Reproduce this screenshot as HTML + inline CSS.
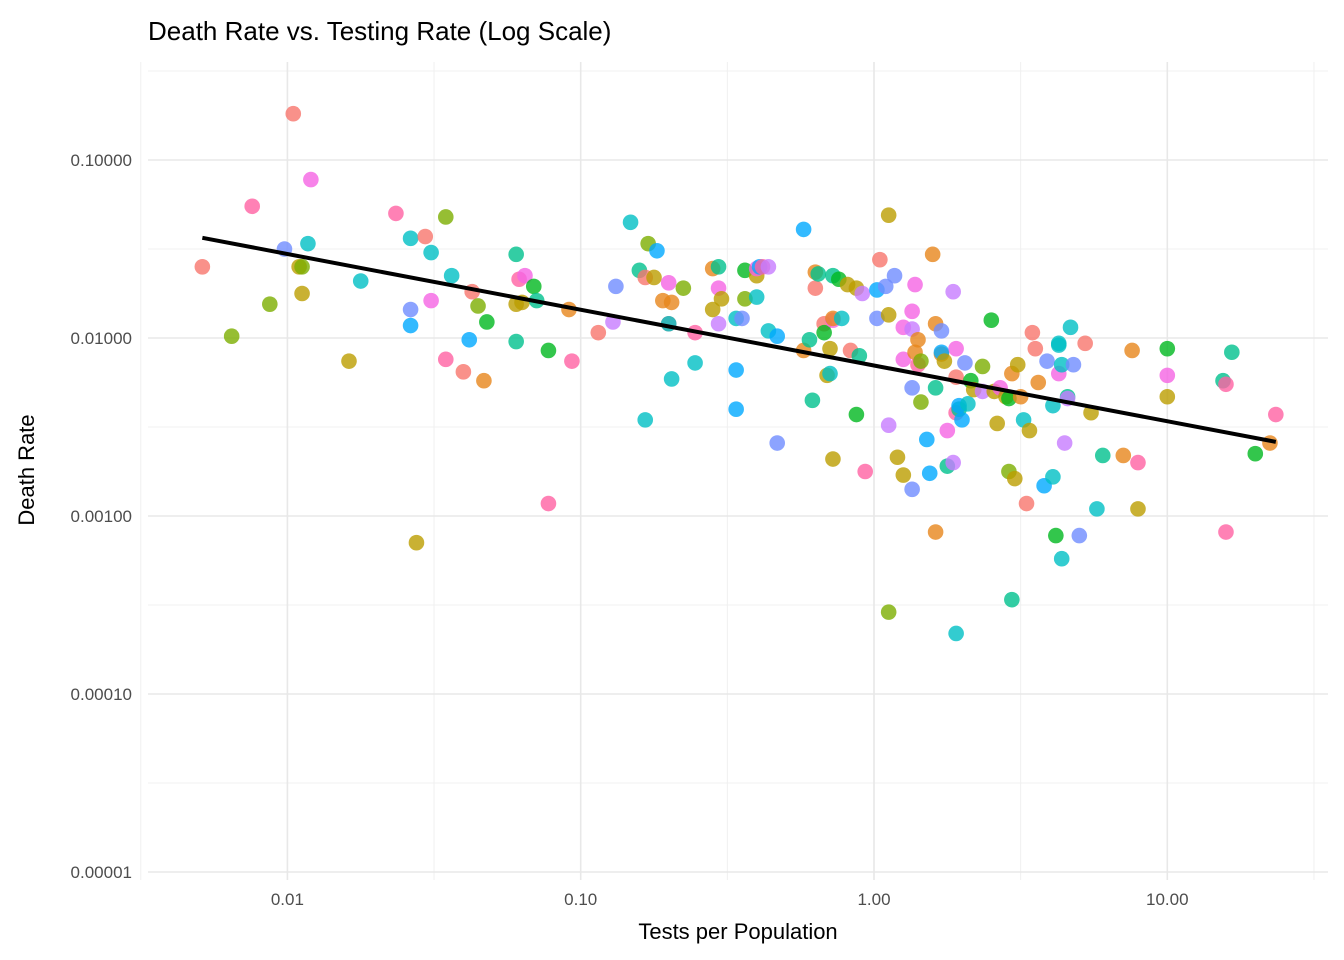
<!DOCTYPE html>
<html><head><meta charset="utf-8"><style>
body{margin:0;background:#fff;}
svg{display:block;font-family:"Liberation Sans",Arial,sans-serif;}
</style></head><body>
<svg id="chart" width="1344" height="960" xmlns="http://www.w3.org/2000/svg">
<text x="148" y="40" font-size="26" fill="#000">Death Rate vs. Testing Rate (Log Scale)</text>
<g id="grid"></g>
<g id="points"></g>
<g id="fit"></g>
<g id="axes"></g>
<text x="738" y="939" font-size="22" text-anchor="middle" fill="#000">Tests per Population</text>
<text transform="translate(34,470) rotate(-90)" font-size="22" text-anchor="middle" fill="#000">Death Rate</text>
</svg>
<script>
// data: log10 of tests per population, log10 of death rate
const logTests = [-2.29,-2.19,-2.12,-2.06,-2.01,-1.98,-1.96,-1.95,-1.95,-1.93,-1.92,-1.79,-1.75,-1.63,-1.58,-1.58,-1.58,-1.56,-1.53,-1.51,-1.51,-1.46,-1.46,-1.44,-1.40,-1.38,-1.37,-1.35,-1.33,-1.32,-1.22,-1.22,-1.22,-1.21,-1.20,-1.19,-1.16,-1.15,-1.11,-1.11,-1.04,-1.03,-0.94,-0.89,-0.88,-0.83,-0.80,-0.78,-0.78,-0.77,-0.75,-0.74,-0.72,-0.70,-0.70,-0.70,-0.69,-0.69,-0.65,-0.61,-0.61,-0.55,-0.53,-0.53,-0.55,-0.53,-0.52,-0.47,-0.47,-0.47,-0.45,-0.44,-0.44,-0.40,-0.40,-0.40,-0.39,-0.38,-0.36,-0.36,-0.33,-0.33,-0.24,-0.24,-0.21,-0.22,-0.20,-0.20,-0.19,-0.17,-0.17,-0.16,-0.15,-0.15,-0.14,-0.14,-0.14,-0.12,-0.14,-0.11,-0.09,-0.08,-0.06,-0.06,-0.05,-0.04,-0.03,0.01,0.01,0.02,0.04,0.05,0.05,0.05,0.05,0.07,0.08,0.10,0.10,0.10,0.13,0.13,0.13,0.13,0.14,0.14,0.15,0.15,0.16,0.16,0.18,0.19,0.20,0.21,0.21,0.21,0.23,0.23,0.23,0.24,0.25,0.25,0.27,0.27,0.28,0.28,0.28,0.29,0.28,0.29,0.30,0.31,0.32,0.33,0.34,0.37,0.37,0.40,0.41,0.42,0.43,0.45,0.46,0.46,0.47,0.47,0.48,0.49,0.50,0.51,0.52,0.53,0.54,0.55,0.56,0.58,0.59,0.61,0.61,0.62,0.63,0.63,0.63,0.64,0.64,0.65,0.66,0.66,0.68,0.67,0.70,0.72,0.74,0.76,0.78,0.85,0.88,0.90,0.90,1.00,1.00,1.00,1.19,1.20,1.20,1.22,1.30,1.35,1.37];
const logDeath = [-1.60,-1.99,-1.26,-1.81,-1.50,-0.74,-1.60,-1.60,-1.75,-1.47,-1.11,-2.13,-1.68,-1.30,-1.44,-1.84,-1.93,-3.15,-1.43,-1.52,-1.79,-1.32,-2.12,-1.65,-2.19,-2.01,-1.74,-1.82,-2.24,-1.91,-2.02,-1.81,-1.53,-1.67,-1.80,-1.65,-1.71,-1.79,-2.07,-2.93,-1.84,-2.13,-1.97,-1.91,-1.71,-1.35,-1.62,-2.46,-1.66,-1.47,-1.66,-1.51,-1.79,-1.92,-1.92,-1.69,-2.23,-1.80,-1.72,-1.97,-2.14,-1.61,-1.72,-1.60,-1.84,-1.92,-1.78,-2.18,-2.40,-1.89,-1.89,-1.62,-1.78,-1.65,-1.61,-1.77,-1.60,-1.60,-1.60,-1.96,-1.99,-2.59,-2.07,-1.39,-2.35,-2.01,-1.72,-1.63,-1.64,-1.92,-1.97,-2.21,-2.20,-2.06,-1.65,-2.68,-1.90,-1.67,-1.89,-1.89,-1.70,-2.07,-2.43,-1.72,-2.10,-1.75,-2.75,-1.89,-1.73,-1.56,-1.71,-1.31,-2.49,-1.87,-3.54,-1.65,-2.67,-2.12,-1.94,-2.77,-1.85,-1.95,-2.28,-2.85,-1.70,-2.08,-2.01,-2.15,-2.13,-2.36,-2.57,-2.76,-1.53,-3.09,-1.92,-2.28,-2.09,-2.08,-1.96,-2.13,-2.52,-2.72,-1.74,-2.70,-2.22,-2.06,-2.42,-2.40,-3.66,-2.38,-2.46,-2.14,-2.37,-2.24,-2.29,-2.16,-2.30,-1.90,-2.30,-2.48,-2.28,-2.33,-2.75,-2.34,-3.47,-2.20,-2.79,-2.15,-2.33,-2.46,-2.93,-2.52,-1.97,-2.06,-2.25,-2.83,-2.13,-2.78,-2.38,-3.11,-2.20,-2.03,-2.04,-2.15,-3.24,-2.59,-2.33,-2.34,-2.15,-1.94,-3.11,-2.03,-2.42,-2.96,-2.66,-2.66,-2.07,-2.96,-2.70,-2.21,-2.33,-2.06,-2.24,-2.26,-3.09,-2.08,-2.65,-2.59,-2.43];
const groupCodes = "rlklurylytmytktubyrtmlktrbrlogqyqkymgqgkokrputqtrlybortmtolktomqypybbtuglymtbkptbuobqqroqrgytyqymgotyrgyqpkubruypyluymmympuumookllbboooqobuymqpprmkqtbbutgylpgyymylgqoyyotryrrobuttgmttttpqputurytqooykmygqkkqgokyo";
const xTickVals = [0.01, 0.1, 1, 10];
const xTickLabels = ["0.01","0.10","1.00","10.00"];
const yTickVals = [0.00001, 0.0001, 0.001, 0.01, 0.1];
const yTickLabels = ["0.00001","0.00010","0.00100","0.01000","0.10000"];

const palette = {r:"#F8766D",o:"#E7861B",y:"#BB9D00",l:"#7CAE00",g:"#00B81F",q:"#00C08D",t:"#00BFC4",b:"#00A9FF",u:"#6F8CFF",p:"#C77CFF",m:"#F564E3",k:"#FF61A3"};
const NS = "http://www.w3.org/2000/svg";
const L = 148, R = 1328, T = 62, B = 880;
function sx(v){ return 874 + 293.3 * Math.log10(v); }
function sy(v){ return 338 - 178 * (Math.log10(v) + 2); }
function mk(tag, attrs, parent){
  const e = document.createElementNS(NS, tag);
  for (const k in attrs) e.setAttribute(k, attrs[k]);
  parent.appendChild(e); return e;
}
const grid = document.getElementById('grid');
for (let p = -2.5; p <= 1.5; p += 1) {
  const x = sx(Math.pow(10, p));
  const ln = mk('line', {x1:x, x2:x, y1:T, y2:B, stroke:"#f0f0f0", "stroke-width":1}, grid);
  
  
}
for (let p = -4.5; p <= -0.5; p += 1) {
  const y = sy(Math.pow(10, p));
  const ln = mk('line', {x1:L, x2:R, y1:y, y2:y, stroke:"#f0f0f0", "stroke-width":1}, grid);
  
  
}
const axes = document.getElementById('axes');
xTickVals.forEach((v, i) => {
  const x = sx(v);
  const ln = mk('line', {x1:x, x2:x, y1:T, y2:B, stroke:"#e8e8e8", "stroke-width":1.6}, grid);
  
  
  const t = mk('text', {x:x, y:905, "font-size":17, fill:"#4d4d4d", "text-anchor":"middle"}, axes);
  t.textContent = xTickLabels[i];
  
  
});
yTickVals.forEach((v, i) => {
  const y = sy(v);
  const ln = mk('line', {x1:L, x2:R, y1:y, y2:y, stroke:"#e8e8e8", "stroke-width":1.6}, grid);
  
  
  const t = mk('text', {x:132, y:y + 6, "font-size":17, fill:"#4d4d4d", "text-anchor":"end"}, axes);
  t.textContent = yTickLabels[i];
  
  
});
const pts = document.getElementById('points');
logTests.forEach((lx, i) => {
  const c = mk('circle', {cx:sx(Math.pow(10, lx)), cy:sy(Math.pow(10, logDeath[i])), r:7.8, fill:palette[groupCodes[i]] || "#888", "fill-opacity":0.8}, pts);
  
  
});
const n = logTests.length;
let mx = 0, my = 0;
for (let i = 0; i < n; i++) { mx += logTests[i]; my += logDeath[i]; }
mx /= n; my /= n;
let sxy = 0, sxx = 0;
for (let i = 0; i < n; i++) { sxy += (logTests[i]-mx)*(logDeath[i]-my); sxx += (logTests[i]-mx)**2; }
const slope = sxy / sxx, icpt = my - slope * mx;
const x0 = Math.min(...logTests), x1 = Math.max(...logTests);
const fl = mk('line', {x1:sx(Math.pow(10,x0)), y1:sy(Math.pow(10,icpt+slope*x0)), x2:sx(Math.pow(10,x1)), y2:sy(Math.pow(10,icpt+slope*x1)), stroke:"#000", "stroke-width":4}, document.getElementById('fit'));


</script>
</body></html>
